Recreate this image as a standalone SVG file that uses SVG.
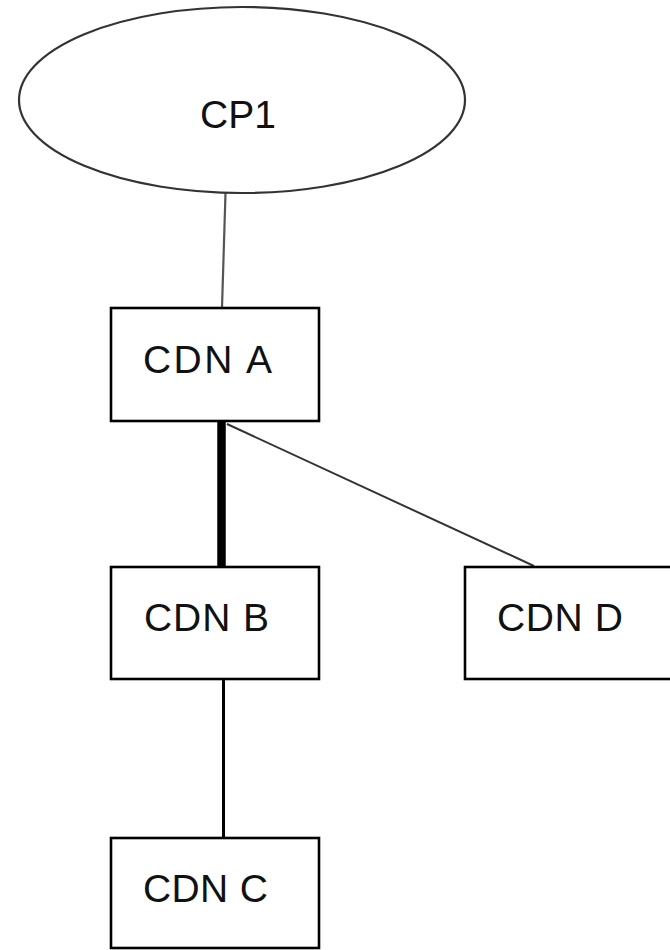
<svg xmlns="http://www.w3.org/2000/svg" width="670" height="950" viewBox="0 0 670 950">
<style>
.box{fill:#fff;stroke:#000;stroke-width:2.6}
.lbl{font-family:"Liberation Sans",Arial,sans-serif;font-size:39px;fill:#111}
.ell{fill:#fff;stroke:#333;stroke-width:2.2}
</style>
<rect width="670" height="950" fill="#fff"/>
<g id="connectors" fill="none">
<line x1="225.5" y1="193" x2="222" y2="308" stroke="#555" stroke-width="2.2"/>
<line x1="221.5" y1="421" x2="221.5" y2="567" stroke="#000" stroke-width="8.5"/>
<line x1="227" y1="424" x2="534" y2="566" stroke="#333" stroke-width="2"/>
<line x1="223.5" y1="679" x2="223.5" y2="838" stroke="#000" stroke-width="3"/>
</g>
<g id="cp1">
<ellipse class="ell" cx="242" cy="100" rx="223" ry="93"/>
<text class="lbl" x="200" y="128">CP1</text>
</g>
<g id="cdnA">
<rect class="box" x="111" y="308" width="208" height="113"/>
<text class="lbl" x="143" y="373" textLength="129" lengthAdjust="spacing">CDN A</text>
</g>
<g id="cdnB">
<rect class="box" x="111" y="567" width="208" height="112"/>
<text class="lbl" x="144" y="631" textLength="125" lengthAdjust="spacing">CDN B</text>
</g>
<g id="cdnD">
<rect class="box" x="465" y="567" width="208" height="112"/>
<text class="lbl" x="497" y="631" textLength="126" lengthAdjust="spacing">CDN D</text>
</g>
<g id="cdnC">
<rect class="box" x="111" y="838" width="208" height="110"/>
<text class="lbl" x="143" y="902" textLength="125" lengthAdjust="spacing">CDN C</text>
</g>
</svg>
